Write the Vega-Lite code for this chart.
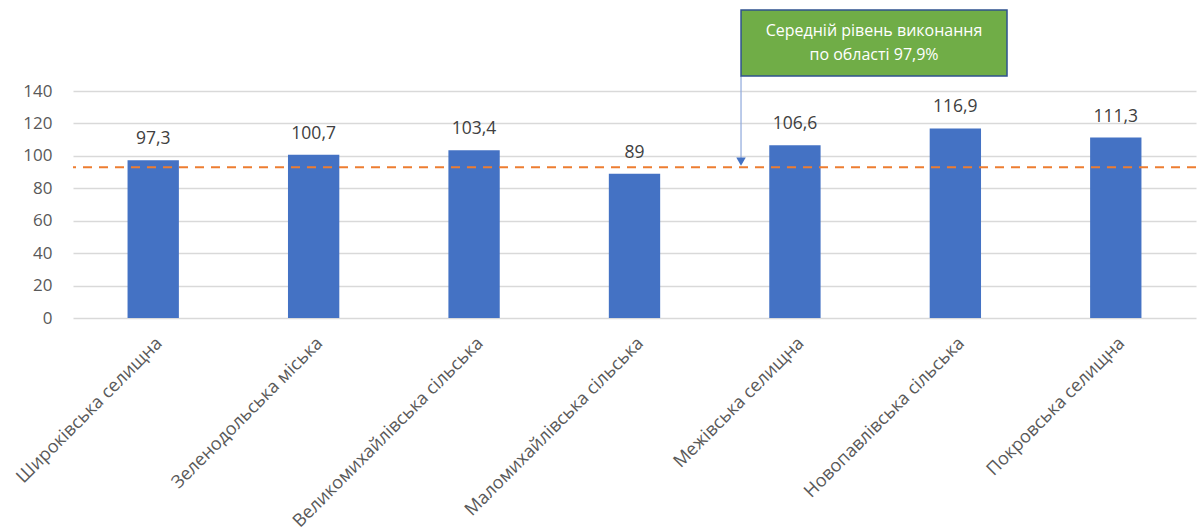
{
  "$schema": "https://vega.github.io/schema/vega-lite/v6.json",
  "width": 1123,
  "height": 227,
  "autosize": {"type": "none"},
  "padding": {"left": 73, "top": 91, "right": 3, "bottom": 213},
  "background": "white",
  "config": {
    "view": {"stroke": null},
    "font": "Open Sans",
    "locale": {"number": {"decimal": ",", "thousands": " ", "grouping": [3], "currency": ["", ""]}}
  },
  "datasets": {
    "bars": [
      {"hromada": "Широківська селищна", "value": 97.3},
      {"hromada": "Зеленодольська міська", "value": 100.7},
      {"hromada": "Великомихайлівська сільська", "value": 103.4},
      {"hromada": "Маломихайлівська сільська", "value": 89},
      {"hromada": "Межівська селищна", "value": 106.6},
      {"hromada": "Новопавлівська сільська", "value": 116.9},
      {"hromada": "Покровська селищна", "value": 111.3}
    ],
    "note": [
      {"x": 4.164, "x2": 5.822, "y": 149.3, "y2": 190, "xt": 4.993, "yt": 177.0, "ya": 96.5, "label": ["Середній рівень виконання", "по області 97,9%"]}
    ]
  },
  "resolve": {"scale": {"x": "independent"}},
  "layer": [
    {
      "data": {"name": "bars"},
      "mark": {"type": "bar", "color": "#4472C4"},
      "encoding": {
        "x": {"field": "hromada", "type": "nominal", "sort": null,
              "scale": {"paddingInner": 0.68, "paddingOuter": 0.34},
              "axis": {"title": null, "labelAngle": -45, "labelFontSize": 18, "labelColor": "#595959", "ticks": false, "domain": false, "labelPadding": 16, "labelLimit": 400}},
        "y": {"field": "value", "type": "quantitative",
              "scale": {"domain": [0, 140], "nice": false},
              "axis": {"title": null, "values": [0, 20, 40, 60, 80, 100, 120, 140], "tickCount": 10, "labelOverlap": false, "labelFlush": false, "ticks": false, "domain": false, "gridColor": "#D9D9D9", "gridWidth": 1.3, "labelFontSize": 17, "labelColor": "#595959", "labelPadding": 21}}
      }
    },
    {
      "data": {"name": "bars"},
      "mark": {"type": "text", "baseline": "bottom", "dy": -12, "fontSize": 17.5, "color": "#404040"},
      "encoding": {
        "x": {"field": "hromada", "type": "nominal", "sort": null, "scale": {"paddingInner": 0.68, "paddingOuter": 0.34}, "axis": null},
        "y": {"field": "value", "type": "quantitative", "scale": {"domain": [0, 140], "nice": false},
              "axis": {"title": null, "values": [0, 20, 40, 60, 80, 100, 120, 140], "tickCount": 10, "labelOverlap": false, "labelFlush": false, "ticks": false, "domain": false, "gridColor": "#D9D9D9", "gridWidth": 1.3, "labelFontSize": 17, "labelColor": "#595959", "labelPadding": 21}},
        "text": {"field": "value", "type": "quantitative", "format": ".1~f"}
      }
    },
    {
      "data": {"values": [{"avg": 93}]},
      "mark": {"type": "rule", "color": "#ED7D31", "strokeWidth": 2, "strokeDash": [9, 7]},
      "encoding": {
        "y": {"field": "avg", "type": "quantitative", "scale": {"domain": [0, 140], "nice": false},
              "axis": {"title": null, "values": [0, 20, 40, 60, 80, 100, 120, 140], "tickCount": 10, "labelOverlap": false, "labelFlush": false, "ticks": false, "domain": false, "gridColor": "#D9D9D9", "gridWidth": 1.3, "labelFontSize": 17, "labelColor": "#595959", "labelPadding": 21}}
      }
    },
    {
      "data": {"name": "note"},
      "mark": {"type": "rule", "color": "#8EA9DB", "strokeWidth": 1.2},
      "encoding": {
        "x": {"field": "x", "type": "quantitative", "scale": {"domain": [0, 7], "nice": false, "zero": false}, "axis": null},
        "y": {"field": "y", "type": "quantitative", "scale": {"domain": [0, 140], "nice": false},
              "axis": {"title": null, "values": [0, 20, 40, 60, 80, 100, 120, 140], "tickCount": 10, "labelOverlap": false, "labelFlush": false, "ticks": false, "domain": false, "gridColor": "#D9D9D9", "gridWidth": 1.3, "labelFontSize": 17, "labelColor": "#595959", "labelPadding": 21}},
        "y2": {"field": "ya"}
      }
    },
    {
      "data": {"name": "note"},
      "mark": {"type": "point", "shape": "triangle-down", "filled": true, "size": 90, "color": "#4472C4", "opacity": 1},
      "encoding": {
        "x": {"field": "x", "type": "quantitative", "scale": {"domain": [0, 7], "nice": false, "zero": false}, "axis": null},
        "y": {"field": "ya", "type": "quantitative", "scale": {"domain": [0, 140], "nice": false},
              "axis": {"title": null, "values": [0, 20, 40, 60, 80, 100, 120, 140], "tickCount": 10, "labelOverlap": false, "labelFlush": false, "ticks": false, "domain": false, "gridColor": "#D9D9D9", "gridWidth": 1.3, "labelFontSize": 17, "labelColor": "#595959", "labelPadding": 21}}
      }
    },
    {
      "data": {"name": "note"},
      "mark": {"type": "rect", "fill": "#70AD47", "stroke": "#2F528F", "strokeWidth": 1.5},
      "encoding": {
        "x": {"field": "x", "type": "quantitative", "scale": {"domain": [0, 7], "nice": false, "zero": false}, "axis": null},
        "x2": {"field": "x2"},
        "y": {"field": "y", "type": "quantitative", "scale": {"domain": [0, 140], "nice": false},
              "axis": {"title": null, "values": [0, 20, 40, 60, 80, 100, 120, 140], "tickCount": 10, "labelOverlap": false, "labelFlush": false, "ticks": false, "domain": false, "gridColor": "#D9D9D9", "gridWidth": 1.3, "labelFontSize": 17, "labelColor": "#595959", "labelPadding": 21}},
        "y2": {"field": "y2"}
      }
    },
    {
      "data": {"name": "note"},
      "mark": {"type": "text", "color": "white", "fontSize": 16, "lineHeight": 24, "align": "center", "baseline": "middle"},
      "encoding": {
        "x": {"field": "xt", "type": "quantitative", "scale": {"domain": [0, 7], "nice": false, "zero": false}, "axis": null},
        "y": {"field": "yt", "type": "quantitative", "scale": {"domain": [0, 140], "nice": false},
              "axis": {"title": null, "values": [0, 20, 40, 60, 80, 100, 120, 140], "tickCount": 10, "labelOverlap": false, "labelFlush": false, "ticks": false, "domain": false, "gridColor": "#D9D9D9", "gridWidth": 1.3, "labelFontSize": 17, "labelColor": "#595959", "labelPadding": 21}},
        "text": {"field": "label"}
      }
    }
  ]
}
